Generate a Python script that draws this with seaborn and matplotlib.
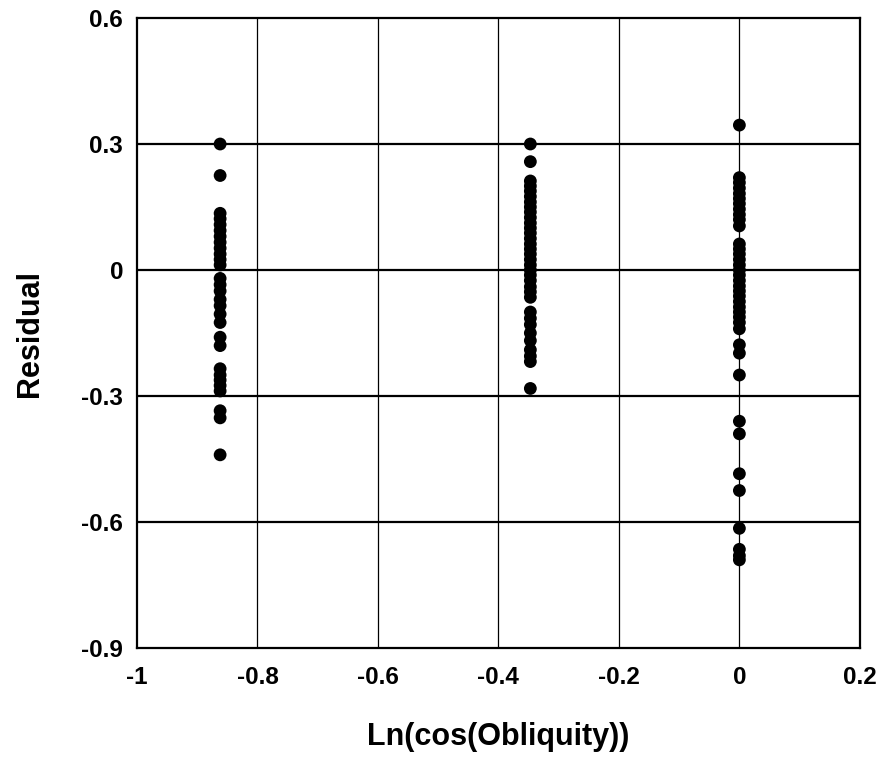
"""Residual vs Ln(cos(Obliquity)) scatter."""

import matplotlib

matplotlib.use("Agg")
import matplotlib.pyplot as plt
import pandas as pd
import seaborn as sns

# ln(cos) of the three obliquity settings (65, 45, 0 deg)
X_LEVELS = [-0.862, -0.347, 0.0]

RESID_65 = [0.30, 0.225, 0.135, 0.122, 0.108, 0.094, 0.08, 0.066, 0.052,
            0.038, 0.025, 0.012, -0.02, -0.035, -0.05, -0.07, -0.085,
            -0.105, -0.125, -0.16, -0.18, -0.235, -0.25, -0.262, -0.275,
            -0.288, -0.335, -0.352, -0.44]
RESID_45 = [0.30, 0.258, 0.212, 0.2, 0.188, 0.175, 0.162, 0.15, 0.138,
            0.125, 0.112, 0.1, 0.088, 0.075, 0.062, 0.05, 0.038, 0.025,
            0.012, 0.0, -0.012, -0.025, -0.04, -0.052, -0.065, -0.1, -0.115,
            -0.13, -0.15, -0.168, -0.19, -0.205, -0.218, -0.282]
RESID_0 = [0.345, 0.22, 0.208, 0.195, 0.182, 0.17, 0.158, 0.145, 0.132,
           0.12, 0.105, 0.062, 0.05, 0.038, 0.025, 0.012, 0.0, -0.012,
           -0.025, -0.038, -0.05, -0.062, -0.075, -0.088, -0.1, -0.112,
           -0.125, -0.14, -0.178, -0.198, -0.25, -0.36, -0.39, -0.485,
           -0.525, -0.615, -0.665, -0.68, -0.69]

X_TICKS = [-1, -0.8, -0.6, -0.4, -0.2, 0, 0.2]
X_TICK_LABELS = ["-1", "-0.8", "-0.6", "-0.4", "-0.2", "0", "0.2"]
Y_TICKS = [0.6, 0.3, 0, -0.3, -0.6, -0.9]
Y_TICK_LABELS = ["0.6", "0.3", "0", "-0.3", "-0.6", "-0.9"]

sns.set_style("white")
plt.rcParams["font.family"] = ["Liberation Sans", "DejaVu Sans"]
plt.rcParams["font.weight"] = "bold"
plt.rcParams["text.color"] = "black"
plt.rcParams["axes.labelcolor"] = "black"
plt.rcParams["xtick.color"] = "black"
plt.rcParams["ytick.color"] = "black"

rows = []
for x, vals in zip(X_LEVELS, [RESID_65, RESID_45, RESID_0]):
    rows += [{"x": x, "resid": v} for v in vals]
df = pd.DataFrame(rows)

fig = plt.figure(figsize=(8.81, 7.66), dpi=100)
ax = fig.add_axes([0.1555, 0.154, 0.8205, 0.8225])

for y in Y_TICKS[1:-1]:
    ax.axhline(y, color="black", lw=1.6, zorder=1)
for x in X_TICKS[1:-1]:
    ax.axvline(x, color="black", lw=0.9, zorder=1)

sns.scatterplot(data=df, x="x", y="resid", color="black", s=85,
                edgecolor="none", ax=ax, zorder=3)

ax.set_xlim(-1, 0.2)
ax.set_ylim(-0.9, 0.6)
ax.set_xticks(X_TICKS)
ax.set_xticklabels(X_TICK_LABELS)
ax.set_yticks(Y_TICKS)
ax.set_yticklabels(Y_TICK_LABELS)
ax.tick_params(length=0, labelsize=17.5, labelcolor="black", pad=10)
ax.tick_params(axis="x", pad=13)
for spine in ax.spines.values():
    spine.set_color("black")
    spine.set_linewidth(1.6)

ax.set_xlabel("Ln(cos(Obliquity))", fontsize=22, fontweight="bold",
              labelpad=24, color="black")
ax.set_ylabel("Residual", fontsize=22, fontweight="bold", labelpad=26,
              color="black")

fig.savefig("out.png", dpi=100)
